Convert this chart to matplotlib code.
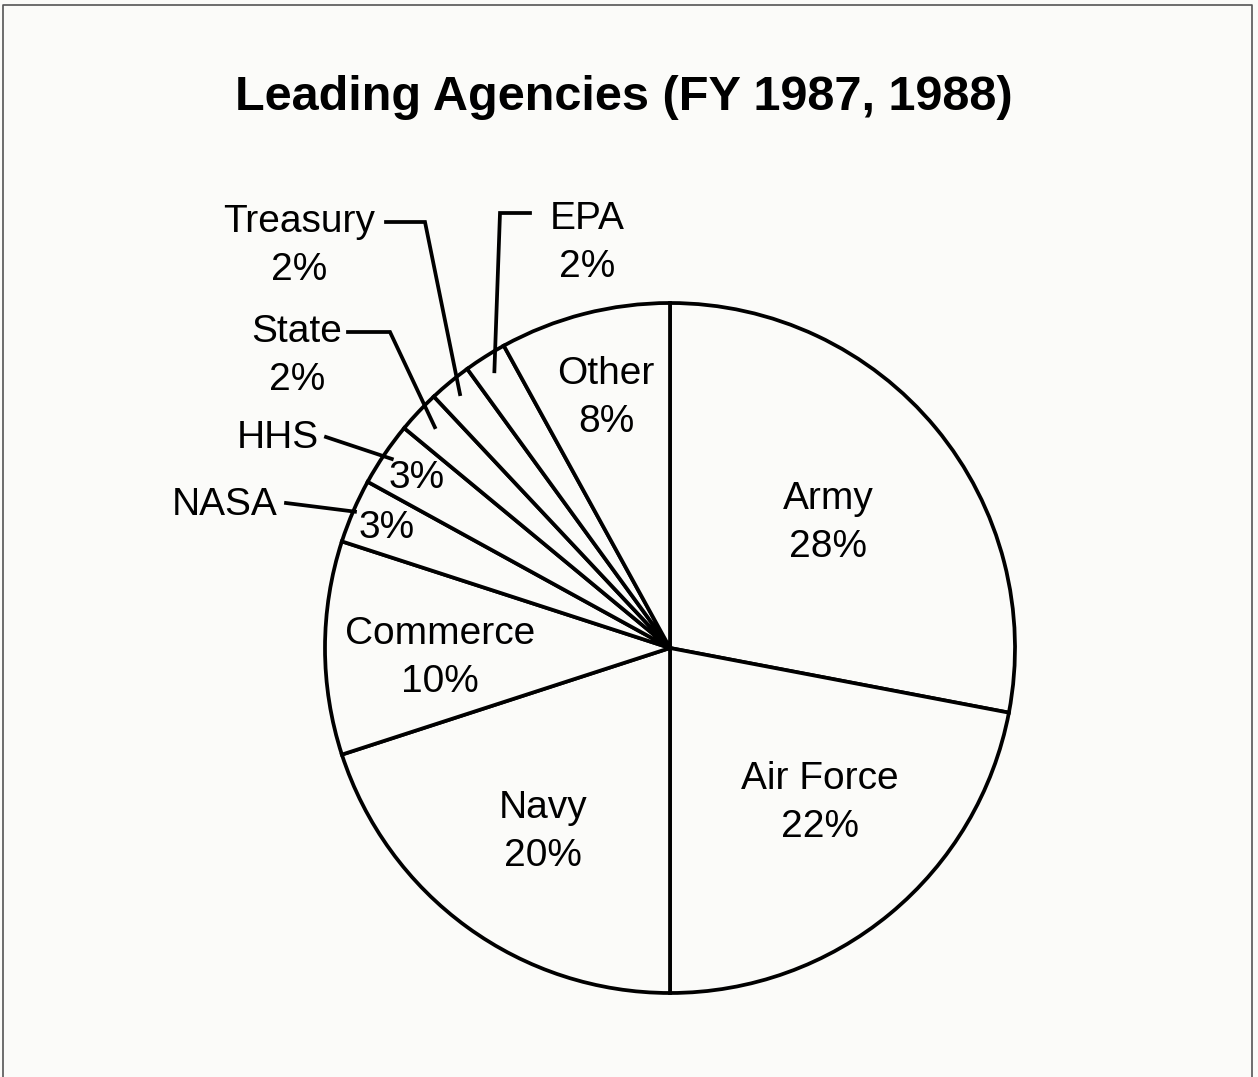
import numpy as np
from matplotlib import pyplot as plt

W, H = 1258, 1077
BG = '#fbfbf9'

agencies = ['Army', 'Air Force', 'Navy', 'Commerce', 'NASA', 'HHS', 'State', 'Treasury', 'EPA', 'Other']
shares = [28, 22, 20, 10, 3, 3, 2, 2, 2, 8]
pct_labels = [f'{s}%' for s in shares]

# label centres (pixels) for slices labelled inside the pie
inside_pos = {'Army': (828, 523), 'Air Force': (820, 803), 'Navy': (543, 832),
              'Commerce': (440, 658), 'Other': (606, 398)}
# slices labelled outside with a leader line: text centre, elbow points, radius fraction of end
outside = {
    'Treasury': ((299, 246), [(386, 222), (425, 222)], 0.955),
    'EPA': ((587, 243), [(530, 213), (500, 213)], 0.95),
    'State': ((297, 356), [(348, 332), (390, 332)], 0.935),
    'HHS': ((278, 438), [(326, 437)], 0.975),
    'NASA': ((225, 505), [(286, 503)], 0.995),
}
small_pct_pos = {'HHS': (417, 478), 'NASA': (387, 528)}

center = (670, 648)
radius = 345

fig = plt.figure(figsize=(W / 100, H / 100), dpi=100, facecolor=BG)
ax = fig.add_axes([0, 0, 1, 1])
ax.set_facecolor(BG)

wedges, _ = ax.pie(shares, center=center, radius=radius, startangle=-90, counterclock=True,
                   colors=[BG] * len(shares),
                   wedgeprops=dict(edgecolor='black', linewidth=2.7, joinstyle='miter'))

ax.set_xlim(0, W)
ax.set_ylim(H, 0)
ax.set_aspect('equal')
ax.axis('off')

font = 'Liberation Sans'
fs = 28
ls = 1.43

for name, pct, w in zip(agencies, pct_labels, wedges):
    if name in inside_pos:
        x, y = inside_pos[name]
        ax.text(x, y, f'{name}\n{pct}', ha='center', va='center', fontsize=fs,
                family=font, linespacing=ls)
    elif name in outside:
        (tx, ty), elbow, rf = outside[name]
        if name in small_pct_pos:
            ax.text(tx, ty, name, ha='center', va='center', fontsize=fs, family=font)
            px, py = small_pct_pos[name]
            ax.text(px, py, pct, ha='center', va='center', fontsize=fs, family=font)
        else:
            ax.text(tx, ty, f'{name}\n{pct}', ha='center', va='center', fontsize=fs,
                    family=font, linespacing=ls)
        mid = np.deg2rad((w.theta1 + w.theta2) / 2)
        ex = center[0] + rf * radius * np.cos(mid)
        ey = center[1] + rf * radius * np.sin(mid)
        xs = [p[0] for p in elbow] + [ex]
        ys = [p[1] for p in elbow] + [ey]
        ax.plot(xs, ys, color='black', lw=2.7, solid_joinstyle='miter')

ax.text(624, 97, 'Leading Agencies (FY 1987, 1988)', ha='center', va='center',
        fontsize=35, fontweight='bold', family=font)

# page frame
ax.plot([3, 3, 1252, 1252], [H, 5, 5, H], color='#555555', lw=1.2)

fig.savefig('out.png', dpi=100, facecolor=BG)
